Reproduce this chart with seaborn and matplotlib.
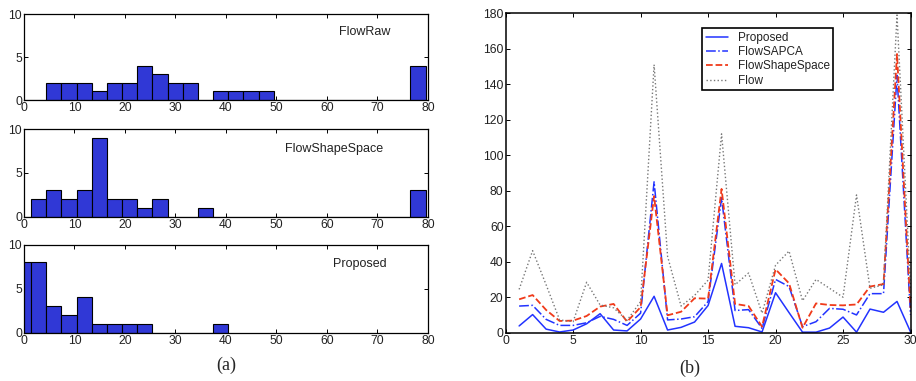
import numpy as np
import pandas as pd
import matplotlib
matplotlib.use("Agg")
import matplotlib.pyplot as plt
import seaborn as sns

# ---------------- data ----------------
# histogram bins (common grid)
bin_start = -1.615
bin_width = 3.005
hist_names = ["FlowRaw", "FlowShapeSpace", "Proposed"]
counts_flowraw = [0, 0, 2, 2, 2, 1, 2, 2, 4, 3, 2, 2, 0, 1, 1, 1, 1, 0, 0, 0, 0, 0, 0, 0, 0, 0, 4]
counts_flowshape = [0, 2, 3, 2, 3, 9, 2, 2, 1, 2, 0, 0, 1, 0, 0, 0, 0, 0, 0, 0, 0, 0, 0, 0, 0, 0, 3]
counts_proposed = [8, 8, 3, 2, 4, 1, 1, 1, 1, 0, 0, 0, 0, 1]

# line chart
frames = list(range(1, 31))
proposed = [3.8, 10.2, 2.0, 0.4, 1.5, 5.0, 10.7, 1.5, 1.0, 7.7, 20.5, 1.5, 3.0, 6.0, 15.3, 39.0,
            3.6, 2.8, 0.4, 22.5, 11.3, 0.3, 0.3, 2.6, 8.8, 0.3, 13.3, 11.5, 17.6, 0.5]
flowsapca = [15.0, 15.4, 7.5, 4.1, 4.1, 5.6, 9.2, 7.5, 4.1, 11.0, 85.0, 7.2, 7.7, 9.0, 17.5, 76.0,
             12.5, 13.0, 2.4, 30.0, 26.0, 3.4, 6.2, 13.7, 13.2, 10.0, 22.0, 22.0, 145.0, 10.0]
flowshapespace = [18.8, 21.2, 12.8, 6.6, 6.8, 9.4, 14.7, 16.2, 6.2, 14.4, 77.0, 9.8, 11.8, 19.4, 19.2, 81.0,
                  16.2, 15.0, 3.4, 35.7, 27.8, 2.8, 16.5, 15.6, 15.4, 15.9, 26.0, 27.4, 157.0, 14.0]
flow = [24.4, 46.2, 27.0, 7.2, 6.2, 28.4, 15.6, 14.0, 7.0, 17.5, 151.0, 43.0, 15.0, 21.0, 29.6, 112.0,
        27.0, 33.6, 11.0, 38.0, 46.0, 18.0, 30.0, 25.0, 20.0, 77.6, 25.0, 27.0, 179.0, 25.0]
line_names = ["Proposed", "FlowSAPCA", "FlowShapeSpace", "Flow"]

# ---------------- style ----------------
sns.set_style("ticks")
plt.rcParams["font.family"] = ["Liberation Sans", "DejaVu Sans"]
plt.rcParams["axes.linewidth"] = 0.9
plt.rcParams["xtick.direction"] = "in"
plt.rcParams["ytick.direction"] = "in"

fig = plt.figure(figsize=(9.16, 3.81), dpi=100)

bar_color = "#3038d6"
hist_axes_rects = [
    [0.0262, 0.7375, 0.441, 0.2257],
    [0.0262, 0.4312, 0.441, 0.2300],
    [0.0262, 0.1268, 0.441, 0.2310],
]
label_pos = [(67.5, 7.9), (61.4, 7.7), (66.5, 7.8)]
all_counts = [counts_flowraw, counts_flowshape, counts_proposed]

for rect, name, cnt, lp in zip(hist_axes_rects, hist_names, all_counts, label_pos):
    ax = fig.add_axes(rect)
    edges = bin_start + bin_width * np.arange(len(cnt) + 1)
    centers = (edges[:-1] + edges[1:]) / 2
    df = pd.DataFrame({"value": centers, "count": cnt})
    sns.histplot(data=df, x="value", weights="count", bins=edges.tolist(), ax=ax,
                 color=bar_color, edgecolor="black", linewidth=0.8, alpha=1.0)
    ax.set_xlim(0, 80)
    ax.set_ylim(0, 10)
    ax.set_xticks(range(0, 81, 10))
    ax.set_yticks([0, 5, 10])
    ax.set_xlabel("")
    ax.set_ylabel("")
    ax.tick_params(direction="in", top=True, right=True, length=3, width=0.7,
                   labelsize=8.7, pad=1.5, colors="black", labelcolor="#222222")
    for s in ax.spines.values():
        s.set_visible(True)
        s.set_color("black")
    ax.text(lp[0], lp[1], name, ha="center", va="center", fontsize=9, color="#222222")

fig.text(0.247, 0.04, "(a)", ha="center", va="center", fontsize=13,
         family=["Liberation Serif", "DejaVu Serif"])

# right line chart
ax2 = fig.add_axes([0.552, 0.1268, 0.442, 0.8386])
series = [proposed, flowsapca, flowshapespace, flow]
colors = ["#2233ff", "#2233ff", "#f03a1a", "#777777"]
styles = ["-", "-.", "--", ":"]
widths = [1.1, 1.1, 1.3, 1.0]
for name, vals, c, ls, lw in zip(line_names, series, colors, styles, widths):
    sns.lineplot(x=frames, y=vals, ax=ax2, color=c, linestyle=ls, linewidth=lw, label=name)
ax2.set_xlim(0, 30)
ax2.set_ylim(0, 180)
ax2.set_xticks(range(0, 31, 5))
ax2.set_yticks(range(0, 181, 20))
ax2.set_xlabel("")
ax2.set_ylabel("")
ax2.tick_params(direction="in", top=True, right=True, length=3, width=0.7,
                labelsize=8.7, pad=1.5, colors="black", labelcolor="#222222")
for s in ax2.spines.values():
    s.set_visible(True)
    s.set_color("black")
    s.set_linewidth(1.1)
leg = ax2.legend(loc="upper left", bbox_to_anchor=(0.486, 0.953), fontsize=8.5,
                 frameon=True, fancybox=False, edgecolor="black", framealpha=1,
                 handlelength=1.9, labelspacing=0.2, borderpad=0.3,
                 handletextpad=0.8, borderaxespad=0)
leg.get_frame().set_linewidth(1.2)
for t in leg.get_texts():
    t.set_color("#222222")

fig.text(0.753, 0.034, "(b)", ha="center", va="center", fontsize=13,
         family=["Liberation Serif", "DejaVu Serif"])

fig.savefig("out.png", dpi=100)
